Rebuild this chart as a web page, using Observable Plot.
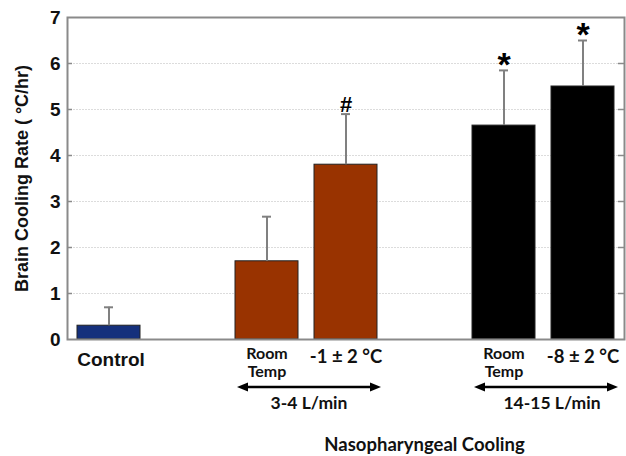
<!DOCTYPE html>
<html>
<head>
<meta charset="utf-8">
<script src="https://cdn.jsdelivr.net/npm/d3@7"></script>
<script src="https://cdn.jsdelivr.net/npm/@observablehq/plot@0.6"></script>
<style>
  html, body { margin: 0; padding: 0; background: #fff; }
</style>
</head>
<body>
<div id="chart"></div>
<script>
// ---- data ----
const xSlots = ["Control", "gap1", "rt34", "cold34", "gap2", "rt1415", "cold1415"];
const barKeys = ["Control", "rt34", "cold34", "rt1415", "cold1415"];
const barLabels = ["Control", "Room\nTemp", "-1 ± 2 °C", "Room\nTemp", "-8 ± 2 °C"];
const means = [0.3, 1.7, 3.8, 4.65, 5.5];
const errs = [0.4, 0.97, 1.1, 1.2, 1.0];
const barColors = ["#15307c", "#993300", "#993300", "#000000", "#000000"];
const sigMarks = ["", "", "#", "*", "*"];
const groupLabels = ["3-4 L/min", "14-15 L/min"];
const groupStart = ["rt34", "rt1415"];
const groupEnd = ["cold34", "cold1415"];
const yTicks = [0, 1, 2, 3, 4, 5, 6, 7];
const gridTicks = [1, 2, 3, 4, 5, 6];
const yLabel = "Brain Cooling Rate ( °C/hr)";
const xTitle = "Nasopharyngeal Cooling";

const data = barKeys.map((k, i) => ({
  key: k, label: barLabels[i], mean: means[i], err: errs[i],
  color: barColors[i], sig: sigMarks[i], i
}));

const ARIAL = "'Liberation Sans', Arial, sans-serif";
const CAL = "Lato, 'Open Sans', sans-serif";
const frameW = 626 - 67 - 2;

const chart = Plot.plot({
  width: 626,
  height: 456,
  marginLeft: 67,
  marginRight: 2,
  marginTop: 17,
  marginBottom: 117,
  x: {domain: xSlots, paddingInner: 0.2, paddingOuter: 0.1, axis: null},
  y: {domain: [0, 7], axis: null},
  color: {type: "identity"},
  style: {background: "#fff", overflow: "visible", fontFamily: ARIAL},
  marks: [
    Plot.ruleY(gridTicks, {y: d => d, stroke: "#dcdcdc", strokeWidth: 1, strokeDasharray: "2,1"}),
    Plot.barY(data, {x: "key", y: "mean", fill: "color", stroke: "#222", strokeWidth: 1}),
    Plot.ruleX(data, {x: "key", y1: "mean", y2: d => d.mean + d.err, stroke: "#808080", strokeWidth: 2}),
    Plot.tickY(data, {x: "key", y: d => d.mean + d.err, stroke: "#808080", strokeWidth: 2, insetLeft: 27, insetRight: 27}),
    Plot.text(data.filter(d => d.sig === "#"), {x: "key", y: d => d.mean + d.err, text: "sig", fontSize: 22, fontWeight: "bold", lineAnchor: "middle", dy: -9, fill: "#000"}),
    Plot.text(data.filter(d => d.sig === "*"), {x: "key", y: d => d.mean + d.err, text: "sig", fontSize: 34, fontWeight: "bold", lineAnchor: "middle", dy: -5, fill: "#000"}),
    Plot.frame({stroke: "#8a8a8a", strokeWidth: 2}),
    // inward ticks
    Plot.ruleY(yTicks.slice(1, 7), {y: d => d, insetRight: frameW - 5, stroke: "#8a8a8a", strokeWidth: 1.5}),
    Plot.ruleY(yTicks.slice(1, 7), {y: d => d, insetLeft: frameW - 6, stroke: "#8a8a8a", strokeWidth: 1.5}),
    // y tick labels
    Plot.text(yTicks, {y: d => d, text: d => String(d), frameAnchor: "left", textAnchor: "end", dx: -7, fontSize: 19, fontWeight: "bold", fill: "#111"}),
    // y label
    Plot.text([yLabel], {text: d => d, frameAnchor: "left", textAnchor: "middle", rotate: -90, dx: -45, fontSize: 18, fontWeight: "bold", fill: "#111"}),
    // bottom labels
    Plot.text(data.filter(d => d.i === 0), {x: "key", text: "label", frameAnchor: "bottom", lineAnchor: "middle", dy: 20, dx: 2, fontSize: 19, fontWeight: "bold", fill: "#111"}),
    Plot.text(data.filter(d => d.label.includes("\n")), {x: "key", text: "label", frameAnchor: "bottom", lineAnchor: "top", dy: 7, lineHeight: 1.12, fontSize: 16, fontWeight: "bold", fontFamily: CAL, fill: "#111"}),
    Plot.text(data.filter(d => d.i > 0 && !d.label.includes("\n")), {x: "key", text: "label", frameAnchor: "bottom", lineAnchor: "middle", dy: 18, fontSize: 18.5, fontWeight: "bold", fontFamily: CAL, fill: "#111"})
  ]
});

document.getElementById("chart").appendChild(chart);

// group arrows and labels, positioned through the plot's own x scale
const xs = chart.scale("x");
const svg = d3.select(chart);
const ay = 387;
const g = svg.append("g");
const lefts = groupStart.map(k => xs.apply(k));
const rights = groupEnd.map(k => xs.apply(k) + xs.bandwidth);
groupLabels.forEach((lab, i) => {
  const l = lefts[i] + 2, r = rights[i] + 4;
  g.append("line").attr("x1", l + 6).attr("x2", r - 6).attr("y1", ay).attr("y2", ay)
    .attr("stroke", "#000").attr("stroke-width", 2.5);
  g.append("path").attr("d", `M${l},${ay}L${l + 11},${ay - 4.5}L${l + 11},${ay + 4.5}Z`).attr("fill", "#000");
  g.append("path").attr("d", `M${r},${ay}L${r - 11},${ay - 4.5}L${r - 11},${ay + 4.5}Z`).attr("fill", "#000");
  g.append("text").attr("x", (l + r) / 2 + (i ? 6 : 0)).attr("y", 403).attr("dy", "0.35em")
    .attr("text-anchor", "middle").attr("font-family", CAL).attr("font-weight", "bold")
    .attr("font-size", 17.5).attr("fill", "#111").text(lab);
});
g.append("text").attr("x", (lefts[0] + rights[1]) / 2).attr("y", 445).attr("dy", "0.35em")
  .attr("text-anchor", "middle").attr("font-family", CAL).attr("font-weight", "bold")
  .attr("font-size", 18.5).attr("fill", "#111").text(xTitle);
</script>
</body>
</html>
